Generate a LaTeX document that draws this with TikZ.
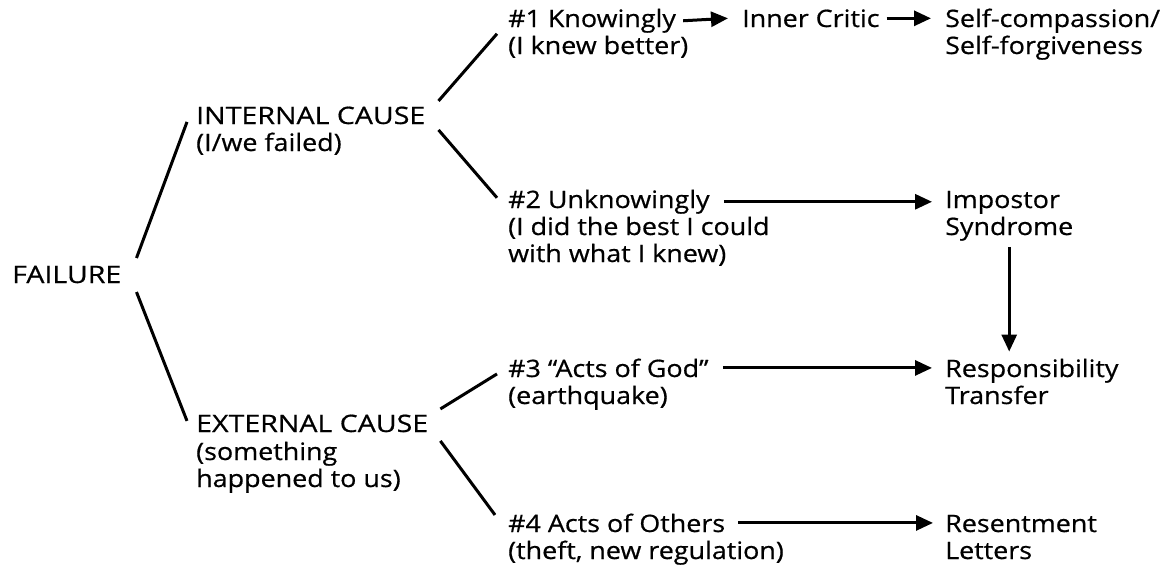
\documentclass[tikz,border=0pt]{standalone}
\usepackage{fontspec}
\setmainfont{Open Sans}[FakeStretch=1.12,FakeBold=0.6]
\newfontfamily\capsfont{Open Sans}[FakeStretch=1.19,FakeBold=0.6]
\usetikzlibrary{arrows.meta}
\begin{document}
\begin{tikzpicture}[x=1pt,y=-1pt,
  lbl/.style={anchor=base west,inner sep=0pt,font=\fontsize{24}{27}\selectfont},
  capslbl/.style={anchor=base west,inner sep=0pt,font=\capsfont\fontsize{24}{27}\selectfont},
  sub/.style={anchor=base west,inner sep=0pt,align=left,font=\fontsize{24}{27}\selectfont},
  branch/.style={line width=3pt},
  arr/.style={line width=3pt,-{Triangle[length=17pt,width=15pt]}}]
\useasboundingbox (0,0) rectangle (1171,565);
% nodes
\node[capslbl] (failure) at (12,283) {FAILURE};
\node[capslbl] (internal) at (196,124) {INTERNAL CAUSE};
\node[sub] (internals) at (196,151) {(I/we failed)};
\node[capslbl] (external) at (196,432) {EXTERNAL CAUSE};
\node[sub] (externals) at (196,487) {(something\\happened to us)};
\node[lbl] (k1) at (508,27) {\#1 Knowingly};
\node[sub] (k1s) at (508,54) {(I knew better)};
\node[lbl] (critic) at (742,27) {Inner Critic};
\node[sub] (selfc) at (945,54) {Self-compassion/\\Self-forgiveness};
\node[lbl] (k2) at (508,208) {\#2 Unknowingly};
\node[sub] (k2s) at (508,262) {(I did the best I could\\with what I knew)};
\node[lbl] (imp) at (945,208) {Impostor};
\node[lbl] (imps) at (945,235) {Syndrome};
\node[lbl] (k3) at (508,377) {\#3 “Acts of God”};
\node[sub] (k3s) at (508,404) {(earthquake)};
\node[sub] (resp) at (945,404) {Responsibility\\Transfer};
\node[lbl] (k4) at (508,532) {\#4 Acts of Others};
\node[sub] (k4s) at (508,559) {(theft, new regulation)};
\node[sub] (resent) at (945,559) {Resentment\\Letters};
% branches
\draw[branch] ([shift={(15,-16.5)}]failure.east) -- ([shift={(-9,6.5)}]internal.west);
\draw[branch] ([shift={(15,17.5)}]failure.east) -- ([shift={(-9,-2.5)}]external.west);
\draw[branch] ([shift={(13,-14.5)}]internal.east) -- ([shift={(-11,13)}]k1.west);
\draw[branch] ([shift={(13,14.5)}]internal.east) -- ([shift={(-11,-4)}]k2.west);
\draw[branch] ([shift={(12,-14.5)}]external.east) -- ([shift={(-11,6)}]k3.west);
\draw[branch] ([shift={(12,17.5)}]external.east) -- ([shift={(-13,-8)}]k4.west);
% arrows
\draw[arr] ([xshift=7pt]k1.east) -- ([xshift=-14pt]critic.west);
\draw[arr] ([xshift=7pt]critic.east) -- ([xshift=-14pt]critic.east -| selfc.west);
\draw[arr] ([xshift=14pt]k2.east) -- ([xshift=-13pt]k2.east -| imp.west);
\draw[arr] ([xshift=14pt]k3.east) -- ([xshift=-13pt]k3.east -| resp.west);
\draw[arr] ([xshift=13pt]k4.east) -- ([xshift=-12pt]k4.east -| resent.west);
\draw[arr] ([yshift=-6pt]imps.south) -- ([yshift=7pt]imps.south |- resp.north);
\end{tikzpicture}
\end{document}
